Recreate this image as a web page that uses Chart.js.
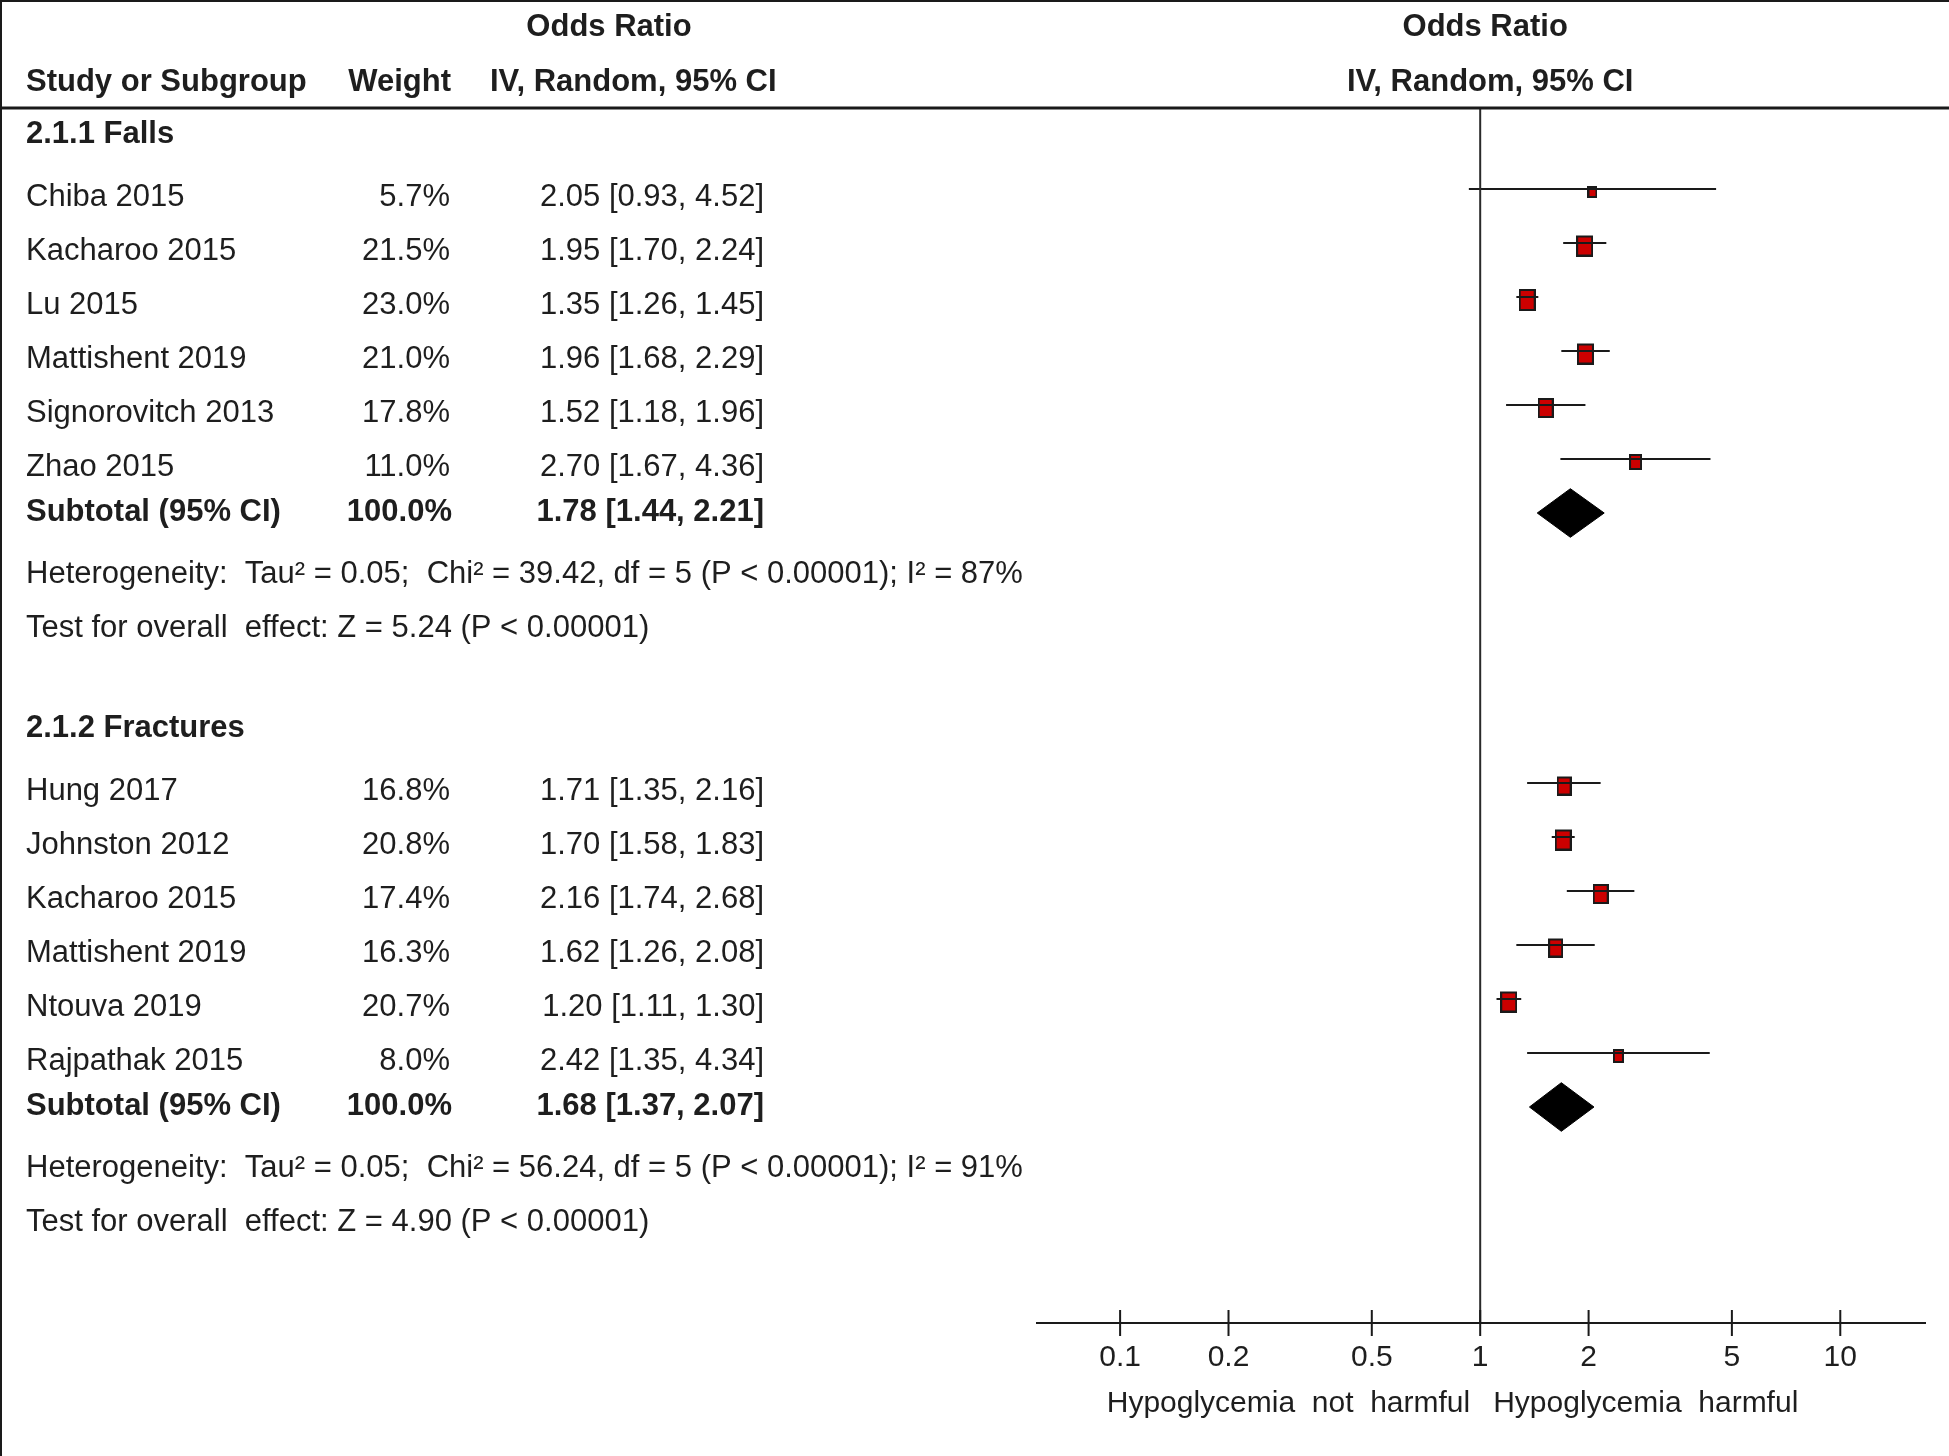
<!DOCTYPE html>
<html>
<head>
<meta charset="utf-8">
<script src="https://cdn.jsdelivr.net/npm/chart.js@4.4.0/dist/chart.umd.min.js"></script>
<style>
  html, body { margin: 0; padding: 0; background: #fff; }
  canvas { display: block; }
</style>
</head>
<body>
<canvas id="forest" width="1949" height="1456" style="width:1949px;height:1456px"></canvas>
<script>
// 2.1.1 Falls
const fallsStudies = ['Chiba 2015', 'Kacharoo 2015', 'Lu 2015', 'Mattishent 2019', 'Signorovitch 2013', 'Zhao 2015'];
const fallsWeights = [5.7, 21.5, 23.0, 21.0, 17.8, 11.0];
const fallsOR = [2.05, 1.95, 1.35, 1.96, 1.52, 2.70];
const fallsLower = [0.93, 1.70, 1.26, 1.68, 1.18, 1.67];
const fallsUpper = [4.52, 2.24, 1.45, 2.29, 1.96, 4.36];
const fallsTotal = [1.78, 1.44, 2.21]; // OR, lower, upper
const fallsHet = 'Heterogeneity:  Tau² = 0.05;  Chi² = 39.42, df = 5 (P < 0.00001); I² = 87%';
const fallsTest = 'Test for overall  effect: Z = 5.24 (P < 0.00001)';

// 2.1.2 Fractures
const fracturesStudies = ['Hung 2017', 'Johnston 2012', 'Kacharoo 2015', 'Mattishent 2019', 'Ntouva 2019', 'Rajpathak 2015'];
const fracturesWeights = [16.8, 20.8, 17.4, 16.3, 20.7, 8.0];
const fracturesOR = [1.71, 1.70, 2.16, 1.62, 1.20, 2.42];
const fracturesLower = [1.35, 1.58, 1.74, 1.26, 1.11, 1.35];
const fracturesUpper = [2.16, 1.83, 2.68, 2.08, 1.30, 4.34];
const fracturesTotal = [1.68, 1.37, 2.07];
const fracturesHet = 'Heterogeneity:  Tau² = 0.05;  Chi² = 56.24, df = 5 (P < 0.00001); I² = 91%';
const fracturesTest = 'Test for overall  effect: Z = 4.90 (P < 0.00001)';

// axis
const tickValues = [0.1, 0.2, 0.5, 1, 2, 5, 10];
const tickLabels = ['0.1', '0.2', '0.5', '1', '2', '5', '10'];
const favoursLeft = 'Hypoglycemia  not  harmful';
const favoursRight = 'Hypoglycemia  harmful';

const groups = [
  { title: '2.1.1 Falls', studies: fallsStudies, weights: fallsWeights, or: fallsOR, lo: fallsLower, hi: fallsUpper, total: fallsTotal, het: fallsHet, test: fallsTest },
  { title: '2.1.2 Fractures', studies: fracturesStudies, weights: fracturesWeights, or: fracturesOR, lo: fracturesLower, hi: fracturesUpper, total: fracturesTotal, het: fracturesHet, test: fracturesTest },
];

// one row per text line; heading, studies, subtotal, heterogeneity, test, blank line
let row = -1;
groups.forEach((g) => {
  g.headRow = row;
  g.rows = g.studies.map((s, i) => row + 1 + i);
  g.totalRow = row + 1 + g.studies.length;
  g.hetRow = g.totalRow + 1;
  g.testRow = g.totalRow + 2;
  row = g.testRow + 2;
});
const ROW_TOP = -1.5;
const ROW_AXIS = 21;

const fmt = (v) => v.toFixed(2);
const ciText = (o, l, h) => fmt(o) + ' [' + fmt(l) + ', ' + fmt(h) + ']';

// red box, area following the study weight
function markerImage(weight) {
  const h = Math.round(4.2 * Math.sqrt(weight));
  const w = Math.round(h * 0.77);
  const drop = 3;
  const c = document.createElement('canvas');
  c.width = w + 2;
  c.height = h + 2 + 2 * drop;
  const g = c.getContext('2d');
  g.fillStyle = '#cc0000';
  g.strokeStyle = '#1a1a1a';
  g.lineWidth = 2;
  g.fillRect(1, 1 + 2 * drop, w, h);
  g.strokeRect(1, 1 + 2 * drop, w, h);
  return c;
}

const datasets = [];

// line of no effect
datasets.push({
  data: [{ x: 1, y: ROW_TOP }, { x: 1, y: ROW_AXIS }],
  showLine: true, borderColor: '#2a2a2a', borderWidth: 2, pointRadius: 0,
});

groups.forEach((g) => {
  // whiskers
  g.studies.forEach((s, i) => {
    datasets.push({
      data: [{ x: g.lo[i], y: g.rows[i] }, { x: g.hi[i], y: g.rows[i] }],
      showLine: true, borderColor: '#1a1a1a', borderWidth: 2, pointRadius: 0,
    });
  });
  // boxes
  datasets.push({
    data: g.studies.map((s, i) => ({ x: g.or[i], y: g.rows[i] })),
    pointStyle: g.weights.map(markerImage),
    pointRadius: 10,
    showLine: false,
  });
  // pooled diamond
  const [o, l, h] = g.total;
  const r = g.totalRow;
  const half = 0.45;
  datasets.push({
    data: [{ x: l, y: r }, { x: o, y: r - half }, { x: h, y: r }, { x: o, y: r + half }, { x: l, y: r }],
    showLine: true, fill: 'shape', backgroundColor: '#000', borderColor: '#000', borderWidth: 1, pointRadius: 0,
  });
});

const FONT = '"Liberation Sans", Arial, sans-serif';
const TEXT = '#1e1e1e';

const forestText = {
  id: 'forestText',
  afterDraw(chart) {
    const { ctx, chartArea: area } = chart;
    const xs = chart.scales.x;
    const ys = chart.scales.y;
    const W = chart.width;
    const H = chart.height;

    ctx.save();
    ctx.strokeStyle = '#1a1a1a';
    // frame top + left
    ctx.lineWidth = 2;
    ctx.beginPath();
    ctx.moveTo(0, 1); ctx.lineTo(W, 1);
    ctx.moveTo(1, 0); ctx.lineTo(1, H);
    ctx.stroke();
    // header rule
    ctx.lineWidth = 3;
    ctx.beginPath();
    ctx.moveTo(0, area.top); ctx.lineTo(W, area.top);
    ctx.stroke();
    // x axis
    ctx.lineWidth = 2;
    ctx.beginPath();
    ctx.moveTo(area.left, area.bottom); ctx.lineTo(area.right, area.bottom);
    tickValues.forEach((v) => {
      const px = xs.getPixelForValue(v);
      ctx.moveTo(px, area.bottom - 13); ctx.lineTo(px, area.bottom + 13);
    });
    ctx.stroke();

    ctx.fillStyle = TEXT;
    const text = (s, x, y, align, bold, size) => {
      ctx.font = (bold ? 'bold ' : '') + (size || 31) + 'px ' + FONT;
      ctx.textAlign = align;
      ctx.textBaseline = 'middle';
      ctx.fillText(s, x, y);
    };
    const py = (r) => ys.getPixelForValue(r);

    // tick labels and direction labels
    tickValues.forEach((v, i) => text(tickLabels[i], xs.getPixelForValue(v), area.bottom + 35, 'center', false, 30));
    const one = xs.getPixelForValue(1);
    text(favoursLeft, one - 10, area.bottom + 81, 'right', false, 30);
    text(favoursRight, one + 13, area.bottom + 81, 'left', false, 30);

    // column headers
    text('Odds Ratio', 609, py(-3), 'center', true);
    text('Odds Ratio', one + 5, py(-3), 'center', true);
    text('Study or Subgroup', 26, py(-2) + 1, 'left', true);
    text('Weight', 451, py(-2) + 1, 'right', true);
    text('IV, Random, 95% CI', 490, py(-2) + 1, 'left', true);
    text('IV, Random, 95% CI', one + 10, py(-2) + 1, 'center', true);

    groups.forEach((g) => {
      text(g.title, 26, py(g.headRow) - 1, 'left', true);
      g.studies.forEach((s, i) => {
        const y = py(g.rows[i]) + 8;
        text(s, 26, y, 'left');
        text(g.weights[i].toFixed(1) + '%', 450, y, 'right');
        text(ciText(g.or[i], g.lo[i], g.hi[i]), 764, y, 'right');
      });
      const ty = py(g.totalRow) - 1;
      text('Subtotal (95% CI)', 26, ty, 'left', true);
      text('100.0%', 452, ty, 'right', true);
      text(ciText(g.total[0], g.total[1], g.total[2]), 764, ty, 'right', true);
      text(g.het, 26, py(g.hetRow) + 7, 'left');
      text(g.test, 26, py(g.testRow) + 7, 'left');
    });
    ctx.restore();
  },
};

new Chart(document.getElementById('forest'), {
  type: 'scatter',
  data: { datasets },
  options: {
    responsive: false,
    animation: false,
    devicePixelRatio: 1,
    layout: { padding: { left: 1036, right: 23, top: 108, bottom: 133 } },
    scales: {
      x: { type: 'logarithmic', min: 0.0584, max: 17.3, display: false },
      y: { type: 'linear', min: ROW_TOP, max: ROW_AXIS, reverse: true, display: false },
    },
    plugins: {
      legend: { display: false },
      tooltip: { enabled: false },
    },
    events: [],
  },
  plugins: [forestText],
});
</script>
</body>
</html>
